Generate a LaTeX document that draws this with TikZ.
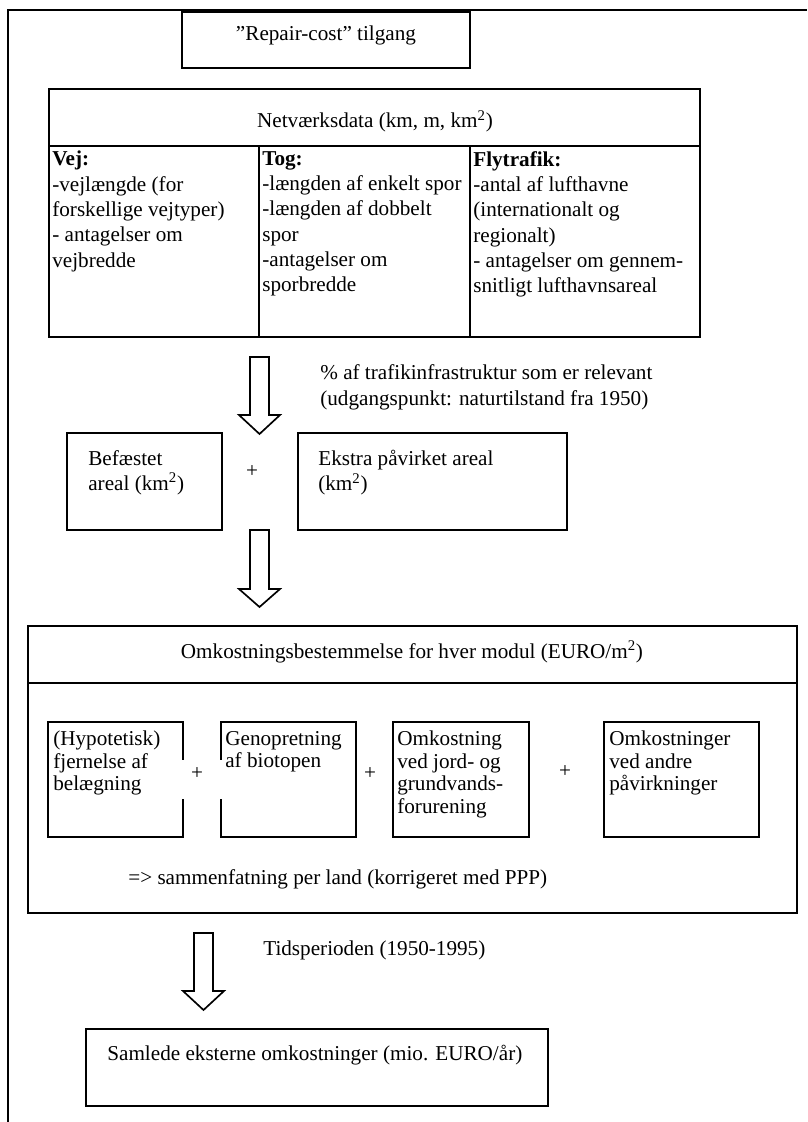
\documentclass[tikz,border=0pt]{standalone}
\usepackage{fontspec}
\setmainfont{Liberation Serif}
\usetikzlibrary{fit}
\newcommand{\tp}{\rule{0pt}{8.5pt}}
\begin{document}
\begin{tikzpicture}[x=0.6pt,y=-0.6pt,
  frameline/.style={line width=1.1pt},
  box/.style={draw, line width=1pt, inner sep=0pt, fit={#1}},
  thinbox/.style={draw, line width=0.9pt, inner sep=0pt, fit={#1}},
  blockarrow/.style={draw, line width=1pt, fill=white, line join=miter},
  txt/.style={inner sep=0pt, font=\fontsize{12.7pt}{14.6pt}\selectfont},
  para/.style={inner sep=0pt, anchor=north west, align=left, font=\fontsize{12.7pt}{#1}\selectfont},
  plus/.style={inner sep=0pt, font=\fontsize{12.7pt}{14.6pt}\selectfont}
]
\useasboundingbox (0,0) rectangle (807,1122);

% outer frame
\draw[frameline] (8,1122) -- (8,10) -- (807,10);

% top box
\node[box={(182,12) (470,68)}] (top) {};
\node[txt, anchor=base] (toptxt) at (326,41) {”Repair-cost” tilgang};

% network data box
\node[box={(49,89) (700,337)}] (net) {};
\node[txt, anchor=base] (nettxt) at (375,128) {Netværksdata (km, m, km\textsuperscript{2})};
\draw[line width=1pt] (49,146) -- (700,146);
\draw[line width=1pt] (259,146) -- (259,337);
\draw[line width=1pt] (470,146) -- (470,337);

\node[para=15.2pt] (vej) at (52,150.8) {\tp\textbf{Vej:}\\-vejlængde (for\\forskellige vejtyper)\\- antagelser om\\vejbredde};
\node[para=15.2pt] (tog) at (262,150.8) {\tp\textbf{Tog:}\\-længden af enkelt spor\\-længden af dobbelt\\spor\\-antagelser om\\sporbredde};
\node[para=15.2pt] (fly) at (473,150.8) {\tp\textbf{Flytrafik:}\\-antal af lufthavne\\(internationalt og\\regionalt)\\- antagelser om gennem-\\snitligt lufthavnsareal};

% arrow 1
\draw[blockarrow] (250,357) -- (269,357) -- (269,415) -- (280,415) -- (259.5,434) -- (239,415) -- (250,415) -- cycle;
\node[para=15.6pt] (lab1) at (320,363.8) {\tp\% af trafikinfrastruktur som er relevant\\(udgangspunkt: naturtilstand fra 1950)};

% area boxes
\node[box={(67,433) (222,530)}] (bef) {};
\node[para=15pt] (beftxt) at (88,449.8) {\tp Befæstet\\areal (km\textsuperscript{2})};
\node[plus] (plus0) at (252,472) {+};
\node[box={(298,433) (567,530)}] (ekstra) {};
\node[para=15pt] (ekstxt) at (318,449.8) {\tp Ekstra påvirket areal\\(km\textsuperscript{2})};

% arrow 2
\draw[blockarrow] (250,530) -- (269,530) -- (269,589) -- (280,589) -- (259.5,607) -- (239,589) -- (250,589) -- cycle;

% cost box
\node[box={(28,626) (797,913)}] (cost) {};
\node[txt, anchor=base] (costtxt) at (412,658) {Omkostningsbestemmelse for hver modul (EURO/m\textsuperscript{2})};
\draw[line width=0.9pt] (28,683) -- (797,683);

\node[thinbox={(48,722) (183,837)}] (sb1) {};
\node[thinbox={(221,722) (356,837)}] (sb2) {};
\node[thinbox={(393,722) (529,837)}] (sb3) {};
\node[thinbox={(604,722) (759,837)}] (sb4) {};
\fill[white] (181,760) rectangle (223,799);
\node[para=13.5pt] (sb1txt) at (53,730.8) {\tp(Hypotetisk)\\fjernelse af\\belægning};
\node[para=13.5pt] (sb2txt) at (225,730.8) {\tp Genopretning\\af biotopen};
\node[para=13.5pt] (sb3txt) at (397,730.8) {\tp Omkostning\\ved jord- og\\grundvands-\\forurening};
\node[para=13.5pt] (sb4txt) at (609,730.8) {\tp Omkostninger\\ved andre\\påvirkninger};
\node[plus] (plus1) at (197,774) {+};
\node[plus] (plus2) at (370,774) {+};
\node[plus] (plus3) at (565,772) {+};
\node[txt, anchor=base west] (summ) at (128,884) {=> sammenfatning per land (korrigeret med PPP)};

% arrow 3
\draw[blockarrow] (194,933) -- (213,933) -- (213,991) -- (224,991) -- (203.5,1010) -- (183,991) -- (194,991) -- cycle;
\node[txt, anchor=base west] (tid) at (263,955) {Tidsperioden (1950-1995)};

% final box
\node[box={(86,1029) (548,1106)}] (final) {};
\node[txt, anchor=base west] (finaltxt) at (107,1060) {Samlede eksterne omkostninger (mio. EURO/år)};
\end{tikzpicture}
\end{document}
